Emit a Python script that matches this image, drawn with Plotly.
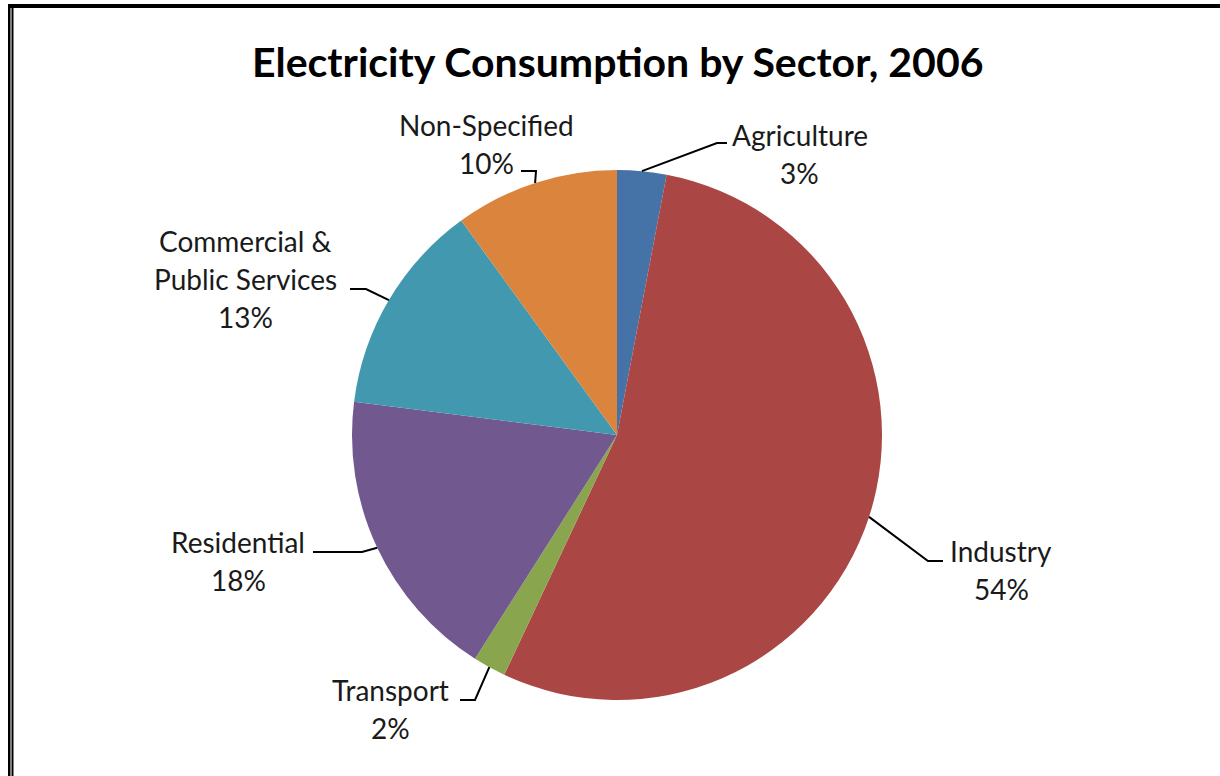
import math
import plotly.graph_objects as go

# Electricity consumption shares by sector, 2006 (percent)
sectors = ["Agriculture", "Industry", "Transport", "Residential",
           "Commercial & Public Services", "Non-Specified"]
shares = [3, 54, 2, 18, 13, 10]
colors = ["#4572A7", "#AA4643", "#89A54E", "#71588F", "#4198AF", "#DB843D"]

# how each label is broken into lines
label_lines = [["Agriculture"], ["Industry"], ["Transport"], ["Residential"],
               ["Commercial &", "Public Services"], ["Non-Specified"]]

W, H = 1220, 776
CX, CY, R = 617, 435, 265  # pie centre and radius in pixels

# label block centre, leader elbow and leader end for each slice (pixels)
label_layout = {
    "Agriculture": dict(text=(800, 154), elbow=(717, 143), end=(727, 143)),
    "Industry": dict(text=(1001, 570), elbow=(928, 561), end=(943, 561)),
    "Transport": dict(text=(390, 709), elbow=(475, 700), end=(460, 700)),
    "Residential": dict(text=(238, 561), elbow=(362, 552), end=(313, 552)),
    "Commercial & Public Services": dict(text=(245, 279), elbow=(366, 289), end=(350, 289)),
    "Non-Specified": dict(text=(486, 144), elbow=(536, 171), end=(521, 171)),
}

FONT = "Lato, 'Open Sans', sans-serif"
LINE_GAP = 38


def px(x):
    return x / W


def py(y):
    return 1 - y / H


fig = go.Figure(go.Pie(
    labels=sectors,
    values=shares,
    sort=False,
    direction="clockwise",
    rotation=0,
    marker=dict(colors=colors, line=dict(width=0)),
    textinfo="none",
    hoverinfo="label+percent",
    showlegend=False,
    domain=dict(x=[px(CX - R), px(CX + R)], y=[py(CY + R), py(CY - R)]),
))

shapes = []
annotations = []
total = sum(shares)
cum = 0.0
for name, val, lines in zip(sectors, shares, label_lines):
    mid = (cum + val / 2) / total * 2 * math.pi
    cum += val
    # point on the rim at the middle of the slice
    ex = CX + R * math.sin(mid)
    ey = CY - R * math.cos(mid)
    lay = label_layout[name]
    (bx, by), (qx, qy) = lay["elbow"], lay["end"]
    path = f"M {px(ex)},{py(ey)} L {px(bx)},{py(by)} L {px(qx)},{py(qy)}"
    shapes.append(dict(type="path", xref="paper", yref="paper", path=path,
                       line=dict(color="black", width=2)))
    pct = f"{round(val / total * 100)}%"
    rows = lines + [pct]
    tx, ty = lay["text"]
    top = ty - (len(rows) - 1) * LINE_GAP / 2
    for i, row in enumerate(rows):
        annotations.append(dict(
            x=px(tx), y=py(top + i * LINE_GAP), xref="paper", yref="paper",
            text=row, showarrow=False, xanchor="center", yanchor="middle",
            font=dict(family=FONT, size=28, color="#1a1a1a")))

# title
annotations.append(dict(
    x=px(617), y=py(62), xref="paper", yref="paper",
    text="<b>Electricity Consumption by Sector, 2006</b>", showarrow=False,
    xanchor="center", yanchor="middle",
    font=dict(family=FONT, size=41, color="black")))

# frame along the top and left edges
shapes += [
    dict(type="rect", xref="paper", yref="paper", x0=px(8), x1=px(1220), y0=py(8), y1=py(4),
         fillcolor="black", line=dict(width=0)),
    dict(type="rect", xref="paper", yref="paper", x0=px(8), x1=px(10.5), y0=py(776), y1=py(4),
         fillcolor="black", line=dict(width=0)),
    dict(type="rect", xref="paper", yref="paper", x0=px(11.5), x1=px(13.5), y0=py(776), y1=py(8),
         fillcolor="black", line=dict(width=0)),
]

fig.update_layout(
    width=W, height=H,
    margin=dict(l=0, r=0, t=0, b=0),
    paper_bgcolor="white", plot_bgcolor="white",
    shapes=shapes, annotations=annotations,
)

fig.write_html("out.html")
